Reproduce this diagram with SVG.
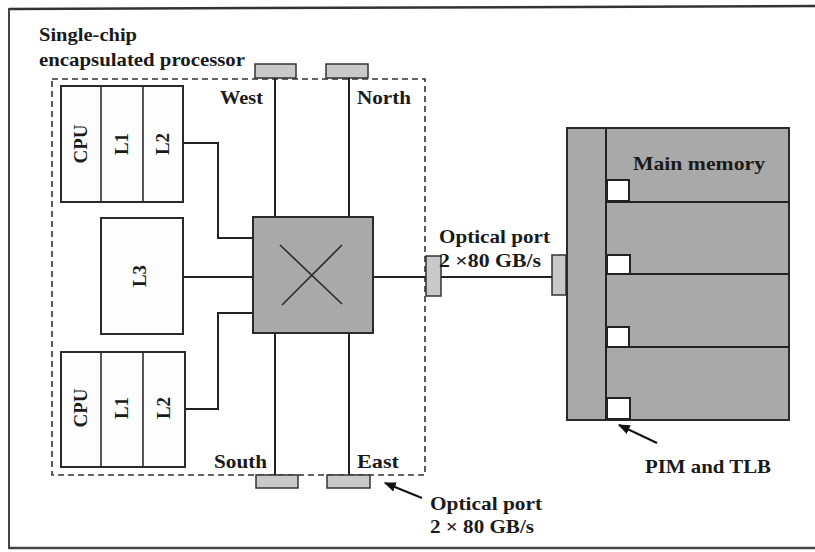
<svg xmlns="http://www.w3.org/2000/svg" width="815" height="552" viewBox="0 0 815 552">
<style>
  text { font-family: "Liberation Serif", "Times New Roman", serif; font-weight: bold; fill: #1a1a1a; }
  .lbl { font-size: 19px; }
  .box { fill: #fdfdfd; stroke: #2a2a2a; stroke-width: 2; }
  .gray { fill: #a9a9a9; stroke: #2a2a2a; stroke-width: 2; }
  .port { fill: #c9c9c9; stroke: #333; stroke-width: 1.5; }
  .wire { fill: none; stroke: #222; stroke-width: 2; }
  .thin { fill: none; stroke: #2a2a2a; stroke-width: 1.6; }
  .pim { fill: #ffffff; stroke: #222; stroke-width: 2; }
  .dash { fill: none; stroke: #333; stroke-width: 1.6; stroke-dasharray: 6 4; }
</style>
<defs>
  <marker id="ah" viewBox="0 0 10 10" refX="9" refY="5" markerWidth="6" markerHeight="6" orient="auto" markerUnits="strokeWidth">
    <path d="M0,1 L10,5 L0,9 Z" fill="#111"/>
  </marker>
</defs>
<rect width="815" height="552" fill="#ffffff"/>
<!-- outer frame -->
<g id="frame">
  <line x1="9" y1="9" x2="815" y2="6" stroke="#333" stroke-width="2.5"/>
  <line x1="9" y1="8" x2="9" y2="549" stroke="#444" stroke-width="2"/>
  <line x1="9" y1="548" x2="815" y2="548" stroke="#444" stroke-width="2.5"/>
</g>
<!-- processor boundary -->
<g id="processor">
  <rect class="dash" x="52" y="79" width="373" height="396"/>
  <text class="lbl" x="39" y="41" textLength="98" lengthAdjust="spacingAndGlyphs">Single-chip</text>
  <text class="lbl" x="39" y="66" textLength="206" lengthAdjust="spacingAndGlyphs">encapsulated processor</text>
</g>
<g id="cpu-top">
  <rect class="box" x="61" y="86" width="122" height="116"/>
  <line class="thin" x1="101" y1="86" x2="101" y2="202"/>
  <line class="thin" x1="143" y1="86" x2="143" y2="202"/>
  <text class="lbl" transform="translate(87,144) rotate(-90)" text-anchor="middle">CPU</text>
  <text class="lbl" transform="translate(128,144) rotate(-90)" text-anchor="middle">L1</text>
  <text class="lbl" transform="translate(169,144) rotate(-90)" text-anchor="middle">L2</text>
</g>
<g id="l3">
  <rect class="box" x="101" y="218" width="82" height="116"/>
  <text class="lbl" transform="translate(146,276) rotate(-90)" text-anchor="middle">L3</text>
</g>
<g id="cpu-bottom">
  <rect class="box" x="61" y="352" width="124" height="115"/>
  <line class="thin" x1="101" y1="352" x2="101" y2="467"/>
  <line class="thin" x1="143" y1="352" x2="143" y2="467"/>
  <text class="lbl" transform="translate(87,408) rotate(-90)" text-anchor="middle">CPU</text>
  <text class="lbl" transform="translate(128,408) rotate(-90)" text-anchor="middle">L1</text>
  <text class="lbl" transform="translate(170,408) rotate(-90)" text-anchor="middle">L2</text>
</g>
<g id="ports">
  <rect class="port" x="255" y="64" width="41" height="14"/>
  <rect class="port" x="326" y="64" width="42" height="14"/>
  <rect class="port" x="256" y="475" width="42" height="13"/>
  <rect class="port" x="327" y="475" width="43" height="13"/>
  <rect class="port" x="426" y="256" width="15" height="40"/>
  <rect class="port" x="552" y="255" width="14" height="40"/>
  <text class="lbl" x="220" y="104" textLength="43" lengthAdjust="spacingAndGlyphs">West</text>
  <text class="lbl" x="357" y="104" textLength="54" lengthAdjust="spacingAndGlyphs">North</text>
  <text class="lbl" x="214" y="468" textLength="53" lengthAdjust="spacingAndGlyphs">South</text>
  <text class="lbl" x="357" y="468" textLength="42" lengthAdjust="spacingAndGlyphs">East</text>
</g>
<g id="connectors">
  <line class="wire" x1="275" y1="78" x2="275" y2="217"/>
  <line class="wire" x1="349" y1="78" x2="349" y2="217"/>
  <line class="wire" x1="275" y1="333" x2="275" y2="475"/>
  <line class="wire" x1="349" y1="333" x2="349" y2="475"/>
  <polyline class="wire" points="183,143 218,143 218,238 253,238"/>
  <line class="wire" x1="183" y1="277" x2="253" y2="277"/>
  <polyline class="wire" points="185,409 218,409 218,313 253,313"/>
  <line class="wire" x1="373" y1="277" x2="426" y2="277"/>
  <line class="wire" x1="441" y1="277" x2="552" y2="277"/>
  <line x1="657" y1="443" x2="619" y2="425" stroke="#111" stroke-width="2" marker-end="url(#ah)"/>
  <line x1="422" y1="498" x2="385" y2="483" stroke="#111" stroke-width="2" marker-end="url(#ah)"/>
</g>
<g id="crossbar">
  <rect class="gray" x="253" y="217" width="120" height="116"/>
  <line class="thin" x1="280" y1="245" x2="342" y2="304"/>
  <line class="thin" x1="342" y1="245" x2="282" y2="305"/>
</g>
<g id="memory">
  <rect class="gray" x="567" y="128" width="222" height="292"/>
  <line class="wire" x1="606" y1="128" x2="606" y2="420"/>
  <line class="wire" x1="606" y1="202" x2="789" y2="202"/>
  <line class="wire" x1="606" y1="274" x2="789" y2="274"/>
  <line class="wire" x1="606" y1="347" x2="789" y2="347"/>
  <rect class="pim" x="607" y="180" width="22" height="21"/>
  <rect class="pim" x="607" y="255" width="23" height="19"/>
  <rect class="pim" x="607" y="327" width="22" height="20"/>
  <rect class="pim" x="607" y="398" width="23" height="21"/>
  <text class="lbl" x="633" y="170" textLength="132" lengthAdjust="spacingAndGlyphs">Main memory</text>
</g>
<g id="labels">
  <text class="lbl" x="439" y="243" textLength="111" lengthAdjust="spacingAndGlyphs">Optical port</text>
  <text class="lbl" x="439" y="267" textLength="102" lengthAdjust="spacingAndGlyphs">2 ×80 GB/s</text>
  <text class="lbl" x="645" y="473" textLength="126" lengthAdjust="spacingAndGlyphs">PIM and TLB</text>
  <text class="lbl" x="430" y="510" textLength="112" lengthAdjust="spacingAndGlyphs">Optical port</text>
  <text class="lbl" x="430" y="533" textLength="104" lengthAdjust="spacingAndGlyphs">2 × 80 GB/s</text>
</g>
</svg>
